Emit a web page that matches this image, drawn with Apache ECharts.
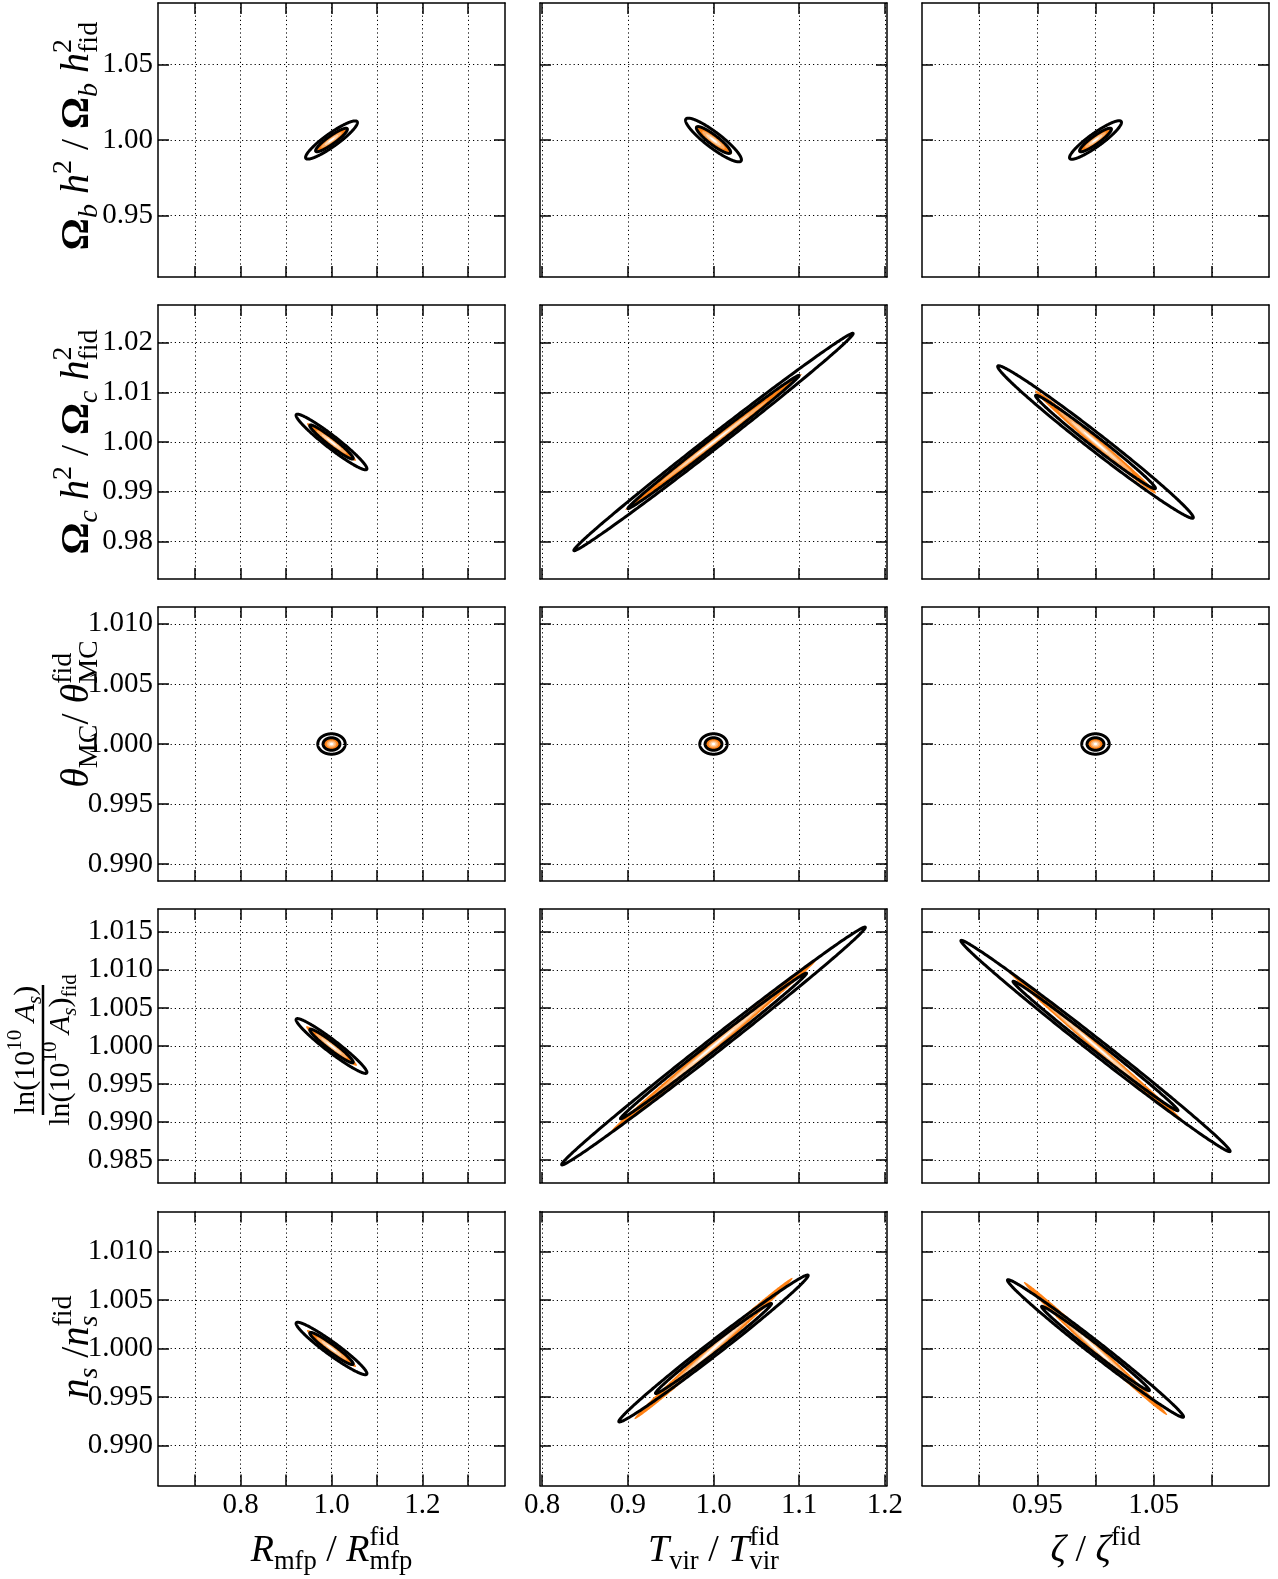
<!DOCTYPE html>
<html><head><meta charset="utf-8">
<script src="https://cdn.jsdelivr.net/npm/echarts@6/dist/echarts.min.js"></script>
<style>html,body{margin:0;padding:0;background:#fff}#chart{width:1278px;height:1579px}</style>
</head><body><div id="chart"></div>
<script>
// ---------------- DATA ----------------
// axis ranges (rows = y parameter, cols = x parameter)
const rowYMin = [0.909, 0.9724, 0.9886, 0.982, 0.9859];
const rowYMax = [1.091, 1.0276, 1.0114, 1.018, 1.0141];
const colXMin = [0.618, 0.7975, 0.851];
const colXMax = [1.382, 1.2025, 1.149];
// tick values
const colXTicks = [[0.7, 0.8, 0.9, 1.0, 1.1, 1.2, 1.3], [0.8, 0.9, 1.0, 1.1, 1.2], [0.9, 0.95, 1.0, 1.05, 1.1]];
const colXLabels = [[0.8, 1.0, 1.2], [0.8, 0.9, 1.0, 1.1, 1.2], [0.95, 1.05]];
const colXDecimals = [1, 1, 2];
const rowYTicks = [
  [0.95, 1.0, 1.05],
  [0.98, 0.99, 1.0, 1.01, 1.02],
  [0.99, 0.995, 1.0, 1.005, 1.01],
  [0.985, 0.99, 0.995, 1.0, 1.005, 1.01, 1.015],
  [0.99, 0.995, 1.0, 1.005, 1.01]
];
const rowYDecimals = [2, 2, 3, 3, 3];
// fiducial centre
const FID_X = 1.0, FID_Y = 1.0;
// 2-sigma half extents (x, y) and correlation of the black forecast
const blackHx = [[0.0571, 0.0326, 0.0223], [0.078, 0.163, 0.084], [0.0302, 0.016, 0.0118], [0.078, 0.1772, 0.1156], [0.078, 0.1105, 0.0756]];
const blackHy = [[0.0127, 0.01453, 0.0128], [0.0056, 0.0219, 0.01536], [0.00085, 0.00085, 0.00085], [0.0036, 0.01562, 0.01388], [0.0027, 0.00756, 0.00708]];
const blackRho = [[0.91, -0.9, 0.91], [-0.96, 0.997, -0.99], [0, 0, 0], [-0.96, 0.997, -0.996], [-0.955, 0.993, -0.992]];
// 2-sigma half extents and correlation of the orange forecast
const orangeHx = [[0.037, 0.0215, 0.0146], [0.054, 0.103, 0.052], [0.0175, 0.0093, 0.0069], [0.056, 0.1204, 0.0763], [0.054, 0.0923, 0.0615]];
const orangeHy = [[0.0083, 0.0095, 0.0083], [0.0038, 0.0137, 0.0104], [0.00049, 0.00049, 0.00049], [0.0026, 0.01135, 0.01008], [0.0019, 0.00727, 0.00685]];
const orangeRho = [[0.93, -0.92, 0.93], [-0.97, 0.998, -0.994], [0, 0, 0], [-0.97, 0.998, -0.998], [-0.97, 0.996, -0.996]];
// contour levels relative to the 2-sigma contour
const ONE_SIGMA = 1.52 / 2.48;

// ---------------- STYLE / LAYOUT ----------------
const SERIF = "'Liberation Serif','Times New Roman','DejaVu Serif',serif";
const colLeft = [158, 540, 922], colWidth = 347;
const rowTop = [3, 305, 607, 909, 1211.5], rowHeight = 274;
const LAYERS = [
  {set: 'orange', scale: 1, fill: '#ff8114'},
  {set: 'orange', scale: ONE_SIGMA, fill: '#fdb06a'},
  {set: 'orange', scale: 0.4, fill: '#fed6b0'},
  {set: 'orange', scale: 0.2, fill: '#ffffff'},
  {set: 'black', scale: 1, stroke: '#000', lw: 3},
  {set: 'black', scale: ONE_SIGMA, stroke: '#000', lw: 3}
];

function makeRender(r, c) {
  return function (params, api) {
    const L = LAYERS[api.value(2)];
    const cx = api.value(0), cy = api.value(1);
    const hx = (L.set === 'black' ? blackHx : orangeHx)[r][c] * L.scale;
    const hy = (L.set === 'black' ? blackHy : orangeHy)[r][c] * L.scale;
    const rho = (L.set === 'black' ? blackRho : orangeRho)[r][c];
    const q = Math.sqrt(1 - rho * rho);
    const pts = [];
    const N = 360;
    for (let k = 0; k < N; k++) {
      const t = 2 * Math.PI * k / N;
      pts.push(api.coord([cx + hx * Math.cos(t), cy + hy * (rho * Math.cos(t) + q * Math.sin(t))]));
    }
    const style = L.fill ? {fill: L.fill, stroke: null} : {fill: 'none', stroke: L.stroke, lineWidth: L.lw};
    return {type: 'polygon', z2: api.value(2), shape: {points: pts}, style: style};
  };
}

const grids = [], xAxes = [], yAxes = [], series = [];
const lineSt = {color: '#000', width: 1.5};
const tickSt = {color: '#000', width: 1.5};
const splitSt = {show: true, lineStyle: {color: '#000', width: 1, type: [1.2, 3]}};
for (let r = 0; r < 5; r++) {
  for (let c = 0; c < 3; c++) {
    const g = r * 3 + c;
    grids.push({left: colLeft[c], top: rowTop[r], width: colWidth, height: rowHeight, show: false});
    const xBase = {type: 'value', gridIndex: g, min: colXMin[c], max: colXMax[c],
      axisLine: {show: true, onZero: false, lineStyle: lineSt},
      axisTick: {show: true, inside: true, length: 11, customValues: colXTicks[c], lineStyle: tickSt}};
    xAxes.push(Object.assign({}, xBase, {position: 'bottom',
      axisLabel: {show: r === 4, customValues: colXLabels[c], formatter: v => (+v).toFixed(colXDecimals[c]),
        fontFamily: SERIF, fontSize: 29, color: '#000', margin: 5},
      splitLine: splitSt}));
    xAxes.push(Object.assign({}, xBase, {position: 'top', axisLabel: {show: false}, splitLine: {show: false}}));
    const yBase = {type: 'value', gridIndex: g, min: rowYMin[r], max: rowYMax[r],
      axisLine: {show: true, onZero: false, lineStyle: lineSt},
      axisTick: {show: true, inside: true, length: 11, customValues: rowYTicks[r], lineStyle: tickSt}};
    yAxes.push(Object.assign({}, yBase, {position: 'left',
      axisLabel: {show: c === 0, customValues: rowYTicks[r], formatter: v => (+v).toFixed(rowYDecimals[r]),
        fontFamily: SERIF, fontSize: 29, color: '#000', margin: 5},
      splitLine: splitSt}));
    yAxes.push(Object.assign({}, yBase, {position: 'right', axisLabel: {show: false}, splitLine: {show: false}}));
    series.push({type: 'custom', coordinateSystem: 'cartesian2d', xAxisIndex: 2 * g, yAxisIndex: 2 * g,
      clip: true, silent: true, encode: {x: 0, y: 1},
      data: LAYERS.map((L, i) => [FID_X, FID_Y, i]), renderItem: makeRender(r, c)});
  }
}

// ---------------- math-like labels ----------------
const mctx = document.createElement('canvas').getContext('2d');
function fontStr(sz, it, bold) { return (it ? 'italic ' : 'normal ') + (bold ? 'bold ' : 'normal ') + sz + 'px ' + SERIF; }
function measure(s, sz, it, bold) {
  mctx.font = fontStr(sz, it, bold);
  mctx.textBaseline = 'alphabetic';
  const w = mctx.measureText(s).width;
  const a = mctx.measureText('H').actualBoundingBoxAscent;
  mctx.textBaseline = 'middle';
  const m = mctx.measureText('H').actualBoundingBoxAscent;
  return {w: w, off: a - m};
}
function mathGroup(tokens, size, x, y, rotation) {
  const small = size * 0.7;
  let cursor = 0, prevStart = 0, prevEnd = 0;
  const items = [];
  tokens.forEach(tk => {
    const s = tk[0], kind = tk[1], stack = tk[2];
    const isSub = kind.indexOf('sub') === 0, isSup = kind.indexOf('sup') === 0;
    const sz = (isSub || isSup) ? small : size;
    const it = kind === 'i' || kind === 'subi' || kind === 'supi';
    const bold = kind === 'b';
    const mm = measure(s, sz, it, bold);
    let x0;
    if (stack) { x0 = prevStart; prevEnd = Math.max(prevEnd, x0 + mm.w); cursor = Math.max(cursor, prevEnd); }
    else { x0 = cursor; cursor = x0 + mm.w; prevStart = x0; prevEnd = cursor; }
    const dy = isSub ? size * 0.22 : isSup ? -size * 0.42 : 0;
    items.push({s, sz, it, bold, x0, y: dy - mm.off});
  });
  const off = -cursor / 2;
  return {type: 'group', x: x, y: y, rotation: rotation || 0, silent: true,
    children: items.map(o => ({type: 'text', x: o.x0 + off, y: o.y,
      style: {text: o.s, fontSize: o.sz, fontFamily: SERIF, fontStyle: o.it ? 'italic' : 'normal',
        fontWeight: o.bold ? 'bold' : 'normal', fill: '#000', align: 'left', verticalAlign: 'middle'}}))};
}

const yTitles = [
  [['\u03A9', 'b'], ['b', 'subi'], [' ', 'n'], ['h', 'i'], ['2', 'sup'], [' / ', 'n'], ['\u03A9', 'b'], ['b', 'subi'], [' ', 'n'], ['h', 'i'], ['2', 'sup'], ['fid', 'sub', 1]],
  [['\u03A9', 'b'], ['c', 'subi'], [' ', 'n'], ['h', 'i'], ['2', 'sup'], [' / ', 'n'], ['\u03A9', 'b'], ['c', 'subi'], [' ', 'n'], ['h', 'i'], ['2', 'sup'], ['fid', 'sub', 1]],
  [['\u03B8', 'i'], ['MC', 'sub'], ['/ ', 'n'], ['\u03B8', 'i'], ['fid', 'sup'], ['MC', 'sub', 1]],
  null,
  [['n', 'i'], ['s', 'subi'], [' /', 'n'], ['n', 'i'], ['fid', 'sup'], ['s', 'subi', 1]]
];
const yTitleCenter = [136, 442, 714, 1050, 1347];
const xTitles = [
  [['R', 'i'], ['mfp', 'sub'], [' / ', 'n'], ['R', 'i'], ['fid', 'sup'], ['mfp', 'sub', 1]],
  [['T', 'i'], ['vir', 'sub'], [' / ', 'n'], ['T', 'i'], ['fid', 'sup'], ['vir', 'sub', 1]],
  [['\u03B6', 'i'], [' / ', 'n'], ['\u03B6', 'i'], ['fid', 'sup']]
];
const fracNum = [['ln(10', 'n'], ['10', 'sup'], [' ', 'n'], ['A', 'i'], ['s', 'subi'], [')', 'n']];
const fracDen = [['ln(10', 'n'], ['10', 'sup'], [' ', 'n'], ['A', 'i'], ['s', 'subi'], [')', 'n'], ['fid', 'sub']];

const graphics = [];
yTitles.forEach((tk, r) => { if (tk) graphics.push(mathGroup(tk, 40, 88, yTitleCenter[r], Math.PI / 2)); });
xTitles.forEach((tk, c) => graphics.push(mathGroup(tk, 38, colLeft[c] + colWidth / 2, 1561, 0)));
// fraction label for row 4
const num = mathGroup(fracNum, 30, 0, -9, 0);
const den = mathGroup(fracDen, 30, 0, 26, 0);
graphics.push({type: 'group', x: 43, y: yTitleCenter[3], rotation: Math.PI / 2, silent: true, children: [
  num, den,
  {type: 'line', shape: {x1: -65, y1: 0, x2: 65, y2: 0}, style: {stroke: '#000', lineWidth: 2.5}}
]});

const chart = echarts.init(document.getElementById('chart'), null, {renderer: 'canvas'});
chart.setOption({
  backgroundColor: '#ffffff',
  animation: false,
  textStyle: {fontFamily: SERIF},
  grid: grids, xAxis: xAxes, yAxis: yAxes, series: series,
  graphic: {elements: graphics}
});
</script></body></html>
